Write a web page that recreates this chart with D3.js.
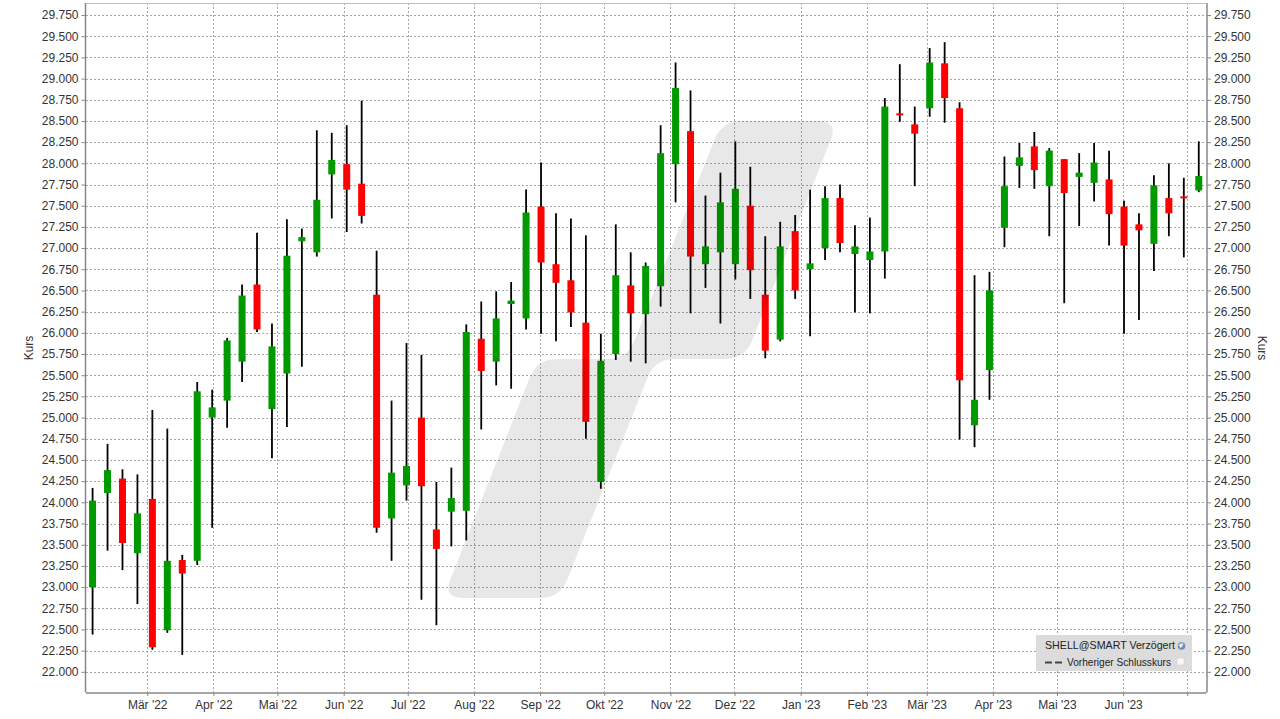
<!DOCTYPE html>
<html><head><meta charset="utf-8">
<script src="https://cdn.jsdelivr.net/npm/d3@7"></script>
<style>body{margin:0;background:#fff;}svg{display:block;font-family:"Liberation Sans",Arial,sans-serif;}</style>
</head><body>
<script>
const dates = ["2022-02-04","2022-02-11","2022-02-18","2022-02-25","2022-03-04","2022-03-11","2022-03-18","2022-03-25",
"2022-04-01","2022-04-08","2022-04-15","2022-04-22","2022-04-29","2022-05-06","2022-05-13","2022-05-20","2022-05-27",
"2022-06-03","2022-06-10","2022-06-17","2022-06-24","2022-07-01","2022-07-08","2022-07-15","2022-07-22","2022-07-29",
"2022-08-05","2022-08-12","2022-08-19","2022-08-26","2022-09-02","2022-09-09","2022-09-16","2022-09-23","2022-09-30",
"2022-10-07","2022-10-14","2022-10-21","2022-10-28","2022-11-04","2022-11-11","2022-11-18","2022-11-25",
"2022-12-02","2022-12-09","2022-12-16","2022-12-23","2022-12-30","2023-01-06","2023-01-13","2023-01-20","2023-01-27",
"2023-02-03","2023-02-10","2023-02-17","2023-02-24","2023-03-03","2023-03-10","2023-03-17","2023-03-24","2023-03-31",
"2023-04-07","2023-04-14","2023-04-21","2023-04-28","2023-05-05","2023-05-12","2023-05-19","2023-05-26",
"2023-06-02","2023-06-09","2023-06-16","2023-06-23","2023-06-30","2023-07-07"];
const opens = [23.00,24.11,24.28,23.40,24.04,22.49,23.32,23.31,25.00,25.20,25.66,26.57,25.10,25.52,27.08,26.95,27.87,27.99,27.76,26.45,
23.81,24.20,25.00,23.68,23.89,23.90,25.93,25.66,26.34,26.17,27.49,26.81,26.62,26.12,24.24,25.75,26.56,26.22,26.55,27.99,
28.38,26.81,26.95,26.81,27.50,26.45,25.92,27.20,26.75,27.00,27.59,26.93,26.86,26.96,28.59,28.46,28.65,29.18,28.65,24.91,
25.56,27.24,27.97,28.20,27.73,28.05,27.84,27.77,27.81,27.49,27.28,27.05,27.59,27.61,27.68];
const highs = [24.17,24.69,24.39,24.33,25.09,24.87,23.38,25.42,25.33,25.94,26.57,27.18,26.11,27.34,27.23,28.39,28.36,28.45,28.74,26.97,
25.20,25.88,25.74,24.24,24.41,26.10,26.37,26.49,26.60,27.69,28.01,27.41,27.35,27.15,25.99,27.28,26.95,26.83,28.45,29.19,
28.86,27.62,27.89,28.26,27.96,27.14,27.31,27.39,27.69,27.73,27.75,27.27,27.36,28.77,29.17,28.67,29.36,29.43,28.72,26.68,
26.72,28.08,28.24,28.37,28.18,28.05,28.12,28.24,28.15,27.56,27.41,27.86,28.00,27.83,28.26];
const lows = [22.44,23.43,23.20,22.80,22.26,22.46,22.20,23.26,23.70,24.88,25.42,26.01,24.52,24.89,25.60,26.90,27.35,27.19,27.29,23.64,
23.31,24.02,22.85,22.55,23.48,23.55,24.86,25.38,25.34,26.04,25.99,25.90,26.07,24.75,24.16,25.68,25.66,25.64,26.31,27.54,
26.23,26.53,26.11,26.63,26.40,25.70,25.90,26.40,25.96,26.86,26.95,26.24,26.23,26.64,28.49,27.73,28.55,28.48,24.74,24.65,
25.21,27.01,27.71,27.70,27.14,26.35,27.26,27.55,27.03,25.99,26.15,26.73,27.14,26.89,27.66];
const closes = [24.02,24.38,23.52,23.87,22.29,23.31,23.16,25.31,25.12,25.91,26.44,26.04,25.84,26.91,27.13,27.57,28.04,27.69,27.38,23.70,
24.35,24.43,24.19,23.45,24.05,26.01,25.55,26.17,26.38,27.42,26.83,26.59,26.24,24.95,25.67,26.68,26.23,26.79,28.12,28.89,
26.90,27.02,27.54,27.70,26.74,25.79,27.02,26.50,26.82,27.59,27.06,27.02,26.96,28.67,28.57,28.35,29.19,28.77,25.44,25.21,
26.50,27.73,28.07,27.92,28.15,27.65,27.89,28.01,27.40,27.03,27.21,27.74,27.41,27.59,27.85];
const monthDates = ["2022-03-01","2022-04-01","2022-05-01","2022-06-01","2022-07-01","2022-08-01","2022-09-01","2022-10-01",
"2022-11-01","2022-12-01","2023-01-01","2023-02-01","2023-03-01","2023-04-01","2023-05-01","2023-06-01","2023-07-01"];
const monthLabels = ["Mär '22","Apr '22","Mai '22","Jun '22","Jul '22","Aug '22","Sep '22","Okt '22","Nov '22","Dez '22",
"Jan '23","Feb '23","Mär '23","Apr '23","Mai '23","Jun '23",""];
const yTicks = [22.0,22.25,22.5,22.75,23.0,23.25,23.5,23.75,24.0,24.25,24.5,24.75,25.0,25.25,25.5,25.75,26.0,26.25,26.5,26.75,
27.0,27.25,27.5,27.75,28.0,28.25,28.5,28.75,29.0,29.25,29.5,29.75];
const legendTitle = "SHELL@SMART Verzögert";
const legendPrev = "Vorheriger Schlusskurs";
const axisTitle = "Kurs";

const W = 1280, H = 719;
const L = 86, R = 1206.5, T = 3, B = 692.5;
const parse = d3.utcParse("%Y-%m-%d");
const data = dates.map((d,i)=>({date:parse(d),o:opens[i],h:highs[i],l:lows[i],c:closes[i]}));

const x = d3.scaleUtc().domain([new Date(Date.UTC(2022,0,31,8)), new Date(Date.UTC(2023,6,10,1))]).range([L,R]);
const y = d3.scaleLinear().domain([21.756, 29.892]).range([B,T]);
const months = monthDates.map(parse);

const svg = d3.select("body").append("svg").attr("width",W).attr("height",H);
svg.append("rect").attr("width",W).attr("height",H).attr("fill","#fff");

// grid
const grid = svg.append("g");
grid.selectAll("line.h").data(yTicks).join("line")
  .attr("x1",L).attr("x2",R).attr("y1",d=>Math.round(y(d))+0.5).attr("y2",d=>Math.round(y(d))+0.5)
  .attr("stroke","#a8a8a8").attr("stroke-dasharray","2,2");
grid.selectAll("line.v").data(months).join("line")
  .attr("y1",T).attr("y2",B).attr("x1",d=>Math.round(x(d))+0.5).attr("x2",d=>Math.round(x(d))+0.5)
  .attr("stroke","#a8a8a8").attr("stroke-dasharray","2,2");

// candles
const cx = d => x(d3.utcHour.offset(d.date,-14));
const bw = 7;
const cg = svg.append("g");
cg.selectAll("line.w").data(data).join("line")
  .attr("x1",cx).attr("x2",cx).attr("y1",d=>y(d.h)).attr("y2",d=>y(d.l))
  .attr("stroke","#000").attr("stroke-width",1.8);
cg.selectAll("rect").data(data).join("rect")
  .attr("x",d=>cx(d)-bw/2).attr("width",bw)
  .attr("y",d=>y(Math.max(d.o,d.c)))
  .attr("height",d=>Math.max(2, Math.abs(y(d.o)-y(d.c))))
  .attr("fill",d=>d.c>=d.o?"#009900":"#ff0000");

// watermark (rounded step shape) drawn on top, translucent
const wm = [[443,598],[560,598],[655,359],[745,359],[838,121],[722,121],[627,359],[537,359]];
function roundedPath(pts, r){
  let p = "";
  const n = pts.length;
  for(let i=0;i<n;i++){
    const v = pts[i], a = pts[(i-1+n)%n], b = pts[(i+1)%n];
    const da = Math.hypot(a[0]-v[0],a[1]-v[1]), db = Math.hypot(b[0]-v[0],b[1]-v[1]);
    const ra = Math.min(r, da/2), rb = Math.min(r, db/2);
    const p1 = [v[0]+(a[0]-v[0])*ra/da, v[1]+(a[1]-v[1])*ra/da];
    const p2 = [v[0]+(b[0]-v[0])*rb/db, v[1]+(b[1]-v[1])*rb/db];
    p += (i===0?"M":"L")+p1[0]+","+p1[1]+"Q"+v[0]+","+v[1]+" "+p2[0]+","+p2[1];
  }
  return p+"Z";
}
svg.append("path").attr("d",roundedPath(wm,20)).attr("fill","#000").attr("fill-opacity",0.09);

// frame
svg.append("line").attr("x1",L).attr("x2",R).attr("y1",T+0.5).attr("y2",T+0.5).attr("stroke","#c0c0c0");

// axes
const fmt = d3.format(".3f");
const yl = svg.append("g").attr("transform",`translate(${L-0.5},0)`)
  .call(d3.axisLeft(y).tickValues(yTicks).tickFormat(fmt).tickSize(4).tickPadding(3));
const yr = svg.append("g").attr("transform",`translate(${R+0.5},0)`)
  .call(d3.axisRight(y).tickValues(yTicks).tickFormat(fmt).tickSize(4).tickPadding(3));
const xa = svg.append("g").attr("transform",`translate(0,${B+0.5})`)
  .call(d3.axisBottom(x).tickValues(months).tickFormat((d,i)=>monthLabels[i]).tickSize(3).tickPadding(4));
[yl,yr,xa].forEach(g=>{
  g.select(".domain").attr("stroke","#888").attr("stroke-width",1.5);
  g.selectAll(".tick line").attr("stroke","#888");
  g.selectAll(".tick text").attr("fill","#333").style("font-size","12px").style("font-family","'Liberation Sans',Arial,sans-serif");
});
yl.select(".domain").attr("d",`M0,${T}V${B}`);
yr.select(".domain").attr("d",`M0,${T}V${B}`);
xa.select(".domain").attr("d",`M${L},0H${R}`);

svg.append("text").attr("transform","translate(33,348) rotate(-90)").attr("text-anchor","middle")
  .style("font-size","12px").attr("fill","#333").text(axisTitle);
svg.append("text").attr("transform","translate(1258,348) rotate(90)").attr("text-anchor","middle")
  .style("font-size","12px").attr("fill","#333").text(axisTitle);

// legend
const lg = svg.append("g");
lg.append("rect").attr("x",1036).attr("y",635).attr("width",156).attr("height",36).attr("fill","#dcdcdc");
lg.append("text").attr("x",1045).attr("y",649).style("font-size","11px").attr("fill","#222")
  .attr("textLength",130).attr("lengthAdjust","spacingAndGlyphs").text(legendTitle);
const glob = lg.append("g").attr("transform","translate(1181.5,646)");
glob.append("circle").attr("r",3.8).attr("fill","#6e8fb0");
glob.append("path").attr("d","M-3,-1 Q0,-4 2,-2 Q1,1 -1,2 Z").attr("fill","#dfe8f0");
lg.append("line").attr("x1",1045).attr("x2",1062).attr("y1",662.5).attr("y2",662.5)
  .attr("stroke","#444").attr("stroke-width",2).attr("stroke-dasharray","7,3");
lg.append("text").attr("x",1067).attr("y",666).style("font-size","11px").attr("fill","#222")
  .attr("textLength",104).attr("lengthAdjust","spacingAndGlyphs").text(legendPrev);
lg.append("rect").attr("x",1177).attr("y",658).attr("width",7).attr("height",7).attr("fill","#f8f8f8").attr("stroke","#cfcfcf").attr("stroke-width",0.6);
</script>
</body></html>
